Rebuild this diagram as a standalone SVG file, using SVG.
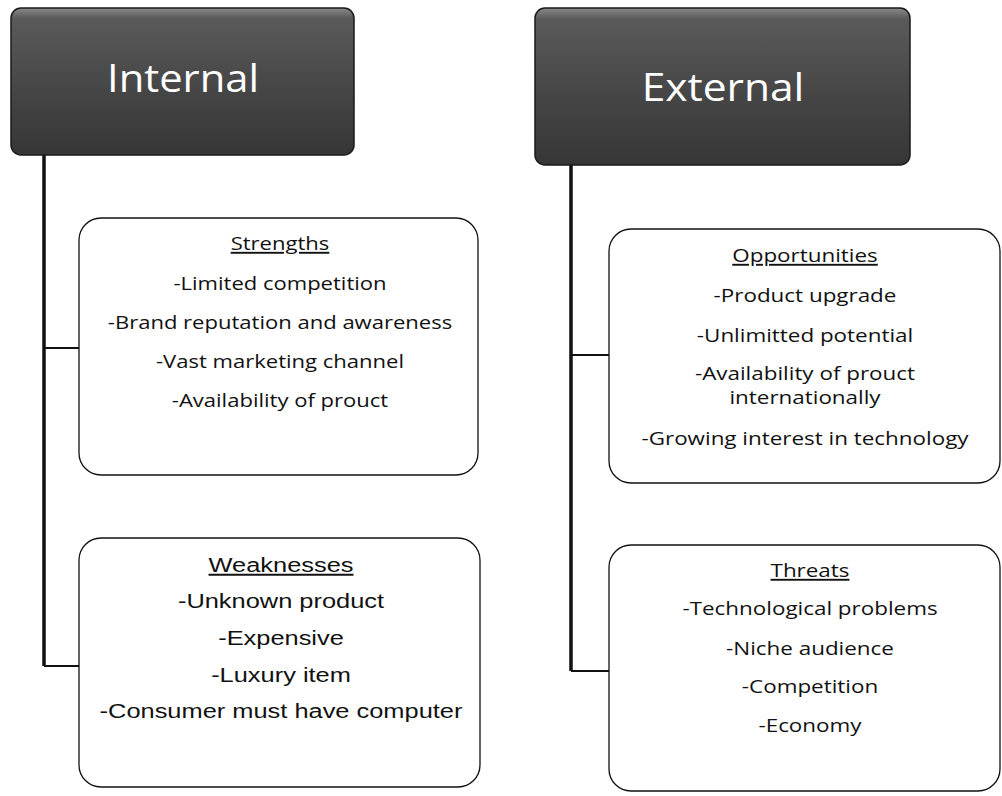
<svg xmlns="http://www.w3.org/2000/svg" width="1002" height="796" viewBox="0 0 1002 796">
  <style>
    .hdr { stroke: #1a1a1a; stroke-width: 1.5; fill: url(#hdrFill); }
    .hdr-text { font-family: "Open Sans", "Noto Sans", sans-serif; font-size: 39px; fill: #ffffff; text-anchor: middle; }
    .box { fill: #ffffff; stroke: #111111; stroke-width: 1.3; }
    .cal { font-family: "Open Sans", "Noto Sans", sans-serif; font-size: 19px; fill: #111111; text-anchor: middle; }
    .ari { font-family: "Liberation Sans", Arial, sans-serif; font-size: 20px; fill: #111111; text-anchor: middle; }
    .title { text-decoration: underline; }
    .trunk { stroke: #111111; stroke-width: 3.5; fill: none; }
    .branch { stroke: #111111; stroke-width: 2; fill: none; }
  </style>
  <defs>
    <linearGradient id="hdrFill" x1="0" y1="0" x2="0" y2="1">
      <stop offset="0" stop-color="#8a8a8a"/>
      <stop offset="0.07" stop-color="#5a5a5a"/>
      <stop offset="0.5" stop-color="#484848"/>
      <stop offset="1" stop-color="#363636"/>
    </linearGradient>
  </defs>
  <rect width="1002" height="796" fill="#ffffff"/>

  <!-- tree connectors -->
  <g id="connectors">
    <path class="trunk" d="M44 155 V666"/>
    <path class="branch" d="M44 348 H79"/>
    <path class="branch" d="M44 666 H79"/>
    <path class="trunk" d="M571 165 V671"/>
    <path class="branch" d="M571 355 H609"/>
    <path class="branch" d="M571 671 H609"/>
  </g>

  <g id="internal">
    <rect class="hdr" x="11" y="8" width="343" height="147" rx="10"/>
    <g transform="translate(183 0) scale(1.07 1)">
      <text class="hdr-text" x="0" y="92">Internal</text>
    </g>
  </g>

  <g id="external">
    <rect class="hdr" x="535" y="8" width="375" height="157" rx="10"/>
    <g transform="translate(723 0) scale(1.09 1)">
      <text class="hdr-text" x="0" y="101">External</text>
    </g>
  </g>

  <g id="strengths">
    <rect class="box" x="79" y="218" width="399" height="257" rx="22"/>
    <g transform="translate(280 0) scale(1.16 1)">
      <text class="cal title" x="0" y="250">Strengths</text>
      <text class="cal" x="0" y="290">-Limited competition</text>
      <text class="cal" x="0" y="329">-Brand reputation and awareness</text>
      <text class="cal" x="0" y="368">-Vast marketing channel</text>
      <text class="cal" x="0" y="407">-Availability of prouct</text>
    </g>
  </g>

  <g id="weaknesses">
    <rect class="box" x="79" y="538" width="401" height="249" rx="22"/>
    <g transform="translate(281 0) scale(1.27 1)">
      <text class="ari title" x="0" y="572">Weaknesses</text>
      <text class="ari" x="0" y="608">-Unknown product</text>
      <text class="ari" x="0" y="645">-Expensive</text>
      <text class="ari" x="0" y="682">-Luxury item</text>
      <text class="ari" x="0" y="718">-Consumer must have computer</text>
    </g>
  </g>

  <g id="opportunities">
    <rect class="box" x="609" y="229" width="391" height="254" rx="22"/>
    <g transform="translate(805 0) scale(1.18 1)">
      <text class="cal title" x="0" y="262">Opportunities</text>
      <text class="cal" x="0" y="302">-Product upgrade</text>
      <text class="cal" x="0" y="342">-Unlimitted potential</text>
      <text class="cal" x="0" y="380">-Availability of prouct</text>
      <text class="cal" x="0" y="404">internationally</text>
      <text class="cal" x="0" y="445">-Growing interest in technology</text>
    </g>
  </g>

  <g id="threats">
    <rect class="box" x="609" y="545" width="391" height="246" rx="22"/>
    <g transform="translate(810 0) scale(1.18 1)">
      <text class="cal title" x="0" y="577">Threats</text>
      <text class="cal" x="0" y="615">-Technological problems</text>
      <text class="cal" x="0" y="655">-Niche audience</text>
      <text class="cal" x="0" y="693">-Competition</text>
      <text class="cal" x="0" y="732">-Economy</text>
    </g>
  </g>
</svg>
